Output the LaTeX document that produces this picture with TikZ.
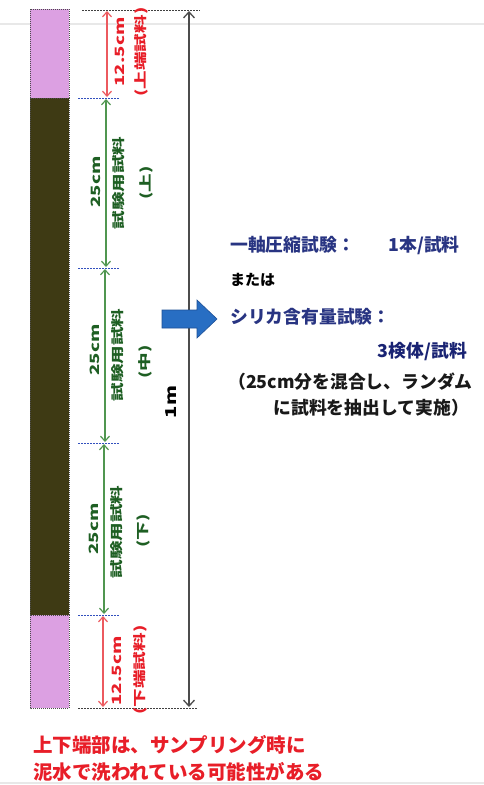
\documentclass[tikz,border=0pt]{standalone}
\usepackage{fontspec}
\usepackage{graphicx}
\setmainfont{Noto Sans CJK JP}
\usetikzlibrary{arrows.meta}
\definecolor{pinkc}{RGB}{220,160,226}
\definecolor{darkc}{RGB}{62,58,20}
\definecolor{redt}{RGB}{232,30,40}
\definecolor{redl}{RGB}{236,90,95}
\definecolor{greent}{RGB}{30,95,35}
\definecolor{greenl}{RGB}{80,150,80}
\definecolor{navyt}{RGB}{40,52,130}
\definecolor{navy2}{RGB}{25,35,115}
\definecolor{bluedot}{RGB}{50,80,190}
\definecolor{arrowblue}{RGB}{40,110,195}
\definecolor{arrowedge}{RGB}{30,80,150}
\definecolor{faint}{RGB}{232,232,232}
\tikzset{
  seg/.style={draw=black!70, line width=0.6pt, dash pattern=on 1pt off 1pt},
  bdot/.style={draw=bluedot, line width=1pt, dash pattern=on 1.5pt off 1.5pt},
  kdot/.style={draw=black!75, line width=1pt, dash pattern=on 1.5pt off 1.5pt},
  reddim/.style={draw=redl, line width=1.2pt, {Straight Barb[length=5pt,width=9pt]}-{Straight Barb[length=5pt,width=9pt]}},
  greendim/.style={draw=greenl, line width=1.2pt, {Straight Barb[length=5pt,width=9pt]}-{Straight Barb[length=5pt,width=9pt]}},
  blackdim/.style={draw=black!70, line width=1.3pt, {Straight Barb[length=6pt,width=11pt]}-{Straight Barb[length=6pt,width=11pt]}},
  vlab/.style={rotate=90, inner sep=0pt, font=\fontsize{12.8}{12}\selectfont\bfseries},
  rtext/.style={inner sep=0pt, font=\fontsize{17.8}{20}\selectfont\bfseries},
  btext/.style={inner sep=0pt, anchor=west, font=\fontsize{19.5}{22}\selectfont\bfseries, text=redt},
}
\begin{document}
\begin{tikzpicture}[x=1pt,y=-1pt]
\useasboundingbox (0,0) rectangle (484,785);
\fill[white] (0,0) rectangle (484,785);
% faint screenshot lines
\draw[faint, line width=1.5pt] (0,24) -- (484,24);
\draw[faint, line width=2pt] (0,783) -- (484,783);
% column
\fill[pinkc] (30,9) rectangle (69,98);
\fill[darkc] (30,98) rectangle (69,615);
\fill[pinkc] (30,615) rectangle (69,708);
\draw[seg] (30,9) rectangle (69,98);
\draw[seg] (30,98) rectangle (69,615);
\draw[seg] (30,615) rectangle (69,708);
% dotted level lines
\draw[kdot] (82,10) -- (200,10);
\draw[kdot] (78,708) -- (198,708);
\draw[bdot] (78,98) -- (120,98);
\draw[bdot] (78,268) -- (120,268);
\draw[bdot] (78,443) -- (120,443);
\draw[bdot] (78,615) -- (120,615);
% dimension end points
\coordinate (r1a) at (107,11);
\coordinate (r1b) at (107,97);
\coordinate (g1a) at (106,99);
\coordinate (g1b) at (106,267);
\coordinate (g2a) at (105,269);
\coordinate (g2b) at (105,442);
\coordinate (g3a) at (104,444);
\coordinate (g3b) at (104,614);
\coordinate (r2a) at (103,616);
\coordinate (r2b) at (103,707);
\coordinate (ma) at (189,11);
\coordinate (mb) at (189,707);
\draw[reddim] (r1a) -- (r1b);
\draw[greendim] (g1a) -- (g1b);
\draw[greendim] (g2a) -- (g2b);
\draw[greendim] (g3a) -- (g3b);
\draw[reddim] (r2a) -- (r2b);
\draw[blackdim] (ma) -- (mb);
% labels top red
\node[vlab, text=redt] (l1) at (120,52) {\scalebox{1.45}[1]{12.5cm}};
\node[vlab, text=redt] (l2) at (141,52) {\scalebox{1.45}[1]{(上端試料)}};
% green labels
\node[vlab, text=greent] (a1) at (96,182) {\scalebox{1.45}[1]{25cm}};
\node[vlab, text=greent] (a2) at (119,183) {\scalebox{1.45}[1]{試験用試料}};
\node[vlab, text=greent] (a3) at (146,183) {\scalebox{1.45}[1]{(上)}};
\node[vlab, text=greent] (b1) at (95,350) {\scalebox{1.45}[1]{25cm}};
\node[vlab, text=greent] (b2) at (118,355) {\scalebox{1.45}[1]{試験用試料}};
\node[vlab, text=greent] (b3) at (145,362) {\scalebox{1.45}[1]{(中)}};
\node[vlab, text=greent] (c1) at (94,529) {\scalebox{1.45}[1]{25cm}};
\node[vlab, text=greent] (c2) at (117,532) {\scalebox{1.45}[1]{試験用試料}};
\node[vlab, text=greent] (c3) at (143,531) {\scalebox{1.45}[1]{(下)}};
% bottom red
\node[vlab, text=redt] (l3) at (117,671) {\scalebox{1.45}[1]{12.5cm}};
\node[vlab, text=redt] (l4) at (140,670) {\scalebox{1.45}[1]{(下端試料)}};
% 1m
\node[rotate=90, inner sep=0pt, font=\fontsize{15}{15}\selectfont\bfseries] (m) at (171,402) {\scalebox{1.35}[1]{1m}};
% blue arrow
\draw[fill=arrowblue, draw=arrowedge, line width=0.6pt, line join=miter]
  (162,310) -- (197,310) -- (197,300) -- (217,319) -- (197,338) -- (197,328) -- (162,328) -- cycle;
% right texts
\node[rtext, anchor=west, text=navyt] (t1) at (230,245) {一軸圧縮試験：\hspace{1.9em}1本/試料};
\node[inner sep=0pt, anchor=west, font=\fontsize{15}{18}\selectfont\bfseries] (t2) at (230,280) {または};
\node[rtext, anchor=west, text=navyt] (t3) at (230,317) {シリカ含有量試験：};
\node[rtext, anchor=east, text=navy2] (t4) at (467,352) {3検体/試料};
\node[rtext, anchor=west, text=black!90] (t5) at (228,382) {（25cm分を混合し、ランダム};
\node[rtext, anchor=east, text=black!90] (t6) at (469,408) {に試料を抽出して実施）};
% bottom note
\node[btext] (n1) at (33,745) {上下端部は、サンプリング時に};
\node[btext] (n2) at (33,772) {泥水で洗われている可能性がある};
\end{tikzpicture}
\end{document}
